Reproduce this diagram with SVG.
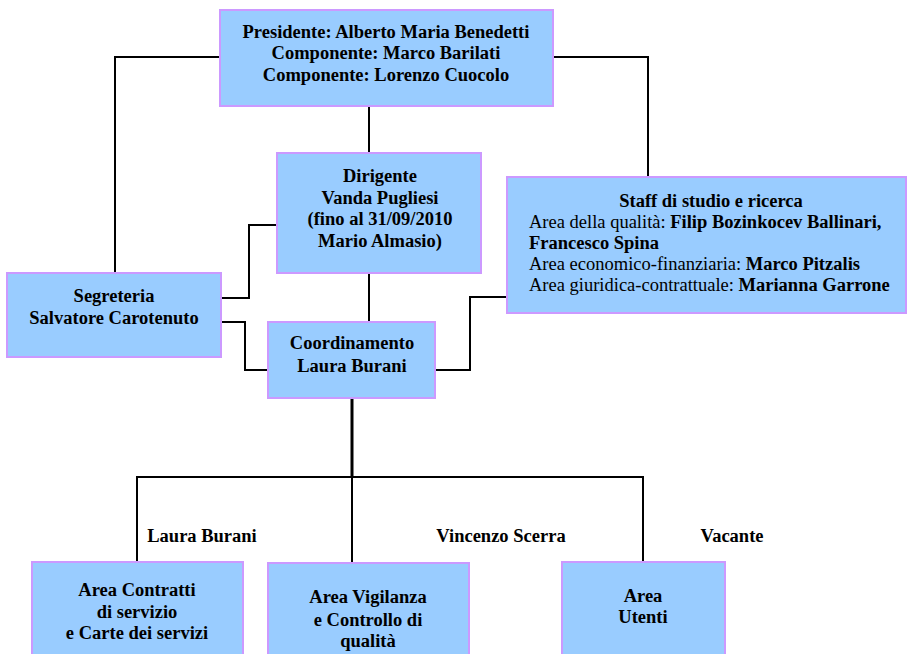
<svg xmlns="http://www.w3.org/2000/svg" width="908" height="654" viewBox="0 0 908 654">
<style>
.box{fill:#99CCFF;stroke:#CC99FF;stroke-width:2}
.t{font-family:"Liberation Serif","Times New Roman",serif;font-size:18.5px;font-weight:bold;fill:#000;text-anchor:middle}
.l{font-family:"Liberation Serif","Times New Roman",serif;font-size:18.5px;fill:#000}
.b{font-weight:bold}
.c{fill:none;stroke:#000;stroke-width:2}
</style>
<rect width="908" height="654" fill="#fff"/>
<g id="connectors">
<path class="c" d="M220,57 H115 V273"/>
<path class="c" d="M553,57 H648 V177"/>
<path class="c" d="M369,106 V153"/>
<path class="c" d="M369,273 V322"/>
<path class="c" d="M221,298 H249 V225 H277"/>
<path class="c" d="M221,322 H245 V370 H268"/>
<path class="c" d="M435,370 H470 V297 H507"/>
<path class="c" d="M352,398 V477" style="stroke-width:3"/>
<path class="c" d="M137,562 V477 H643 V562"/>
<path class="c" d="M352,477 V563"/>
</g>
<g id="presidente">
<rect class="box" x="220" y="10" width="333" height="96"/>
<text class="t" x="386" y="38">Presidente: Alberto Maria Benedetti</text>
<text class="t" x="386" y="59">Componente: Marco Barilati</text>
<text class="t" x="386" y="81">Componente: Lorenzo Cuocolo</text>
</g>
<g id="dirigente">
<rect class="box" x="277" y="153" width="204" height="120"/>
<text class="t" x="380" y="182">Dirigente</text>
<text class="t" x="380" y="204">Vanda Pugliesi</text>
<text class="t" x="380" y="225">(fino al 31/09/2010</text>
<text class="t" x="380" y="247">Mario Almasio)</text>
</g>
<g id="staff">
<rect class="box" x="507" y="177" width="399" height="136"/>
<text class="t" x="711" y="207">Staff di studio e ricerca</text>
<text class="l" x="529" y="228">Area della qualità: <tspan class="b">Filip Bozinkocev Ballinari,</tspan></text>
<text class="l b" x="529" y="249">Francesco Spina</text>
<text class="l" x="529" y="270">Area economico-finanziaria: <tspan class="b">Marco Pitzalis</tspan></text>
<text class="l" x="529" y="291">Area giuridica-contrattuale: <tspan class="b">Marianna Garrone</tspan></text>
</g>
<g id="segreteria">
<rect class="box" x="7" y="273" width="214" height="84"/>
<text class="t" x="114" y="302">Segreteria</text>
<text class="t" x="114" y="324">Salvatore Carotenuto</text>
</g>
<g id="coordinamento">
<rect class="box" x="268" y="322" width="167" height="76"/>
<text class="t" x="352" y="349">Coordinamento</text>
<text class="t" x="352" y="372">Laura Burani</text>
</g>
<g id="labels">
<text class="t" x="202" y="542">Laura Burani</text>
<text class="t" x="501" y="542">Vincenzo Scerra</text>
<text class="t" x="732" y="542">Vacante</text>
</g>
<g id="area-contratti">
<rect class="box" x="32" y="562" width="211" height="100"/>
<text class="t" x="137" y="596">Area Contratti</text>
<text class="t" x="137" y="618">di servizio</text>
<text class="t" x="137" y="639">e Carte dei servizi</text>
</g>
<g id="area-vigilanza">
<rect class="box" x="268" y="563" width="201" height="100"/>
<text class="t" x="368" y="603">Area Vigilanza</text>
<text class="t" x="368" y="626">e Controllo di</text>
<text class="t" x="368" y="647">qualità</text>
</g>
<g id="area-utenti">
<rect class="box" x="562" y="562" width="163" height="100"/>
<text class="t" x="643" y="602">Area</text>
<text class="t" x="643" y="623">Utenti</text>
</g>
</svg>
